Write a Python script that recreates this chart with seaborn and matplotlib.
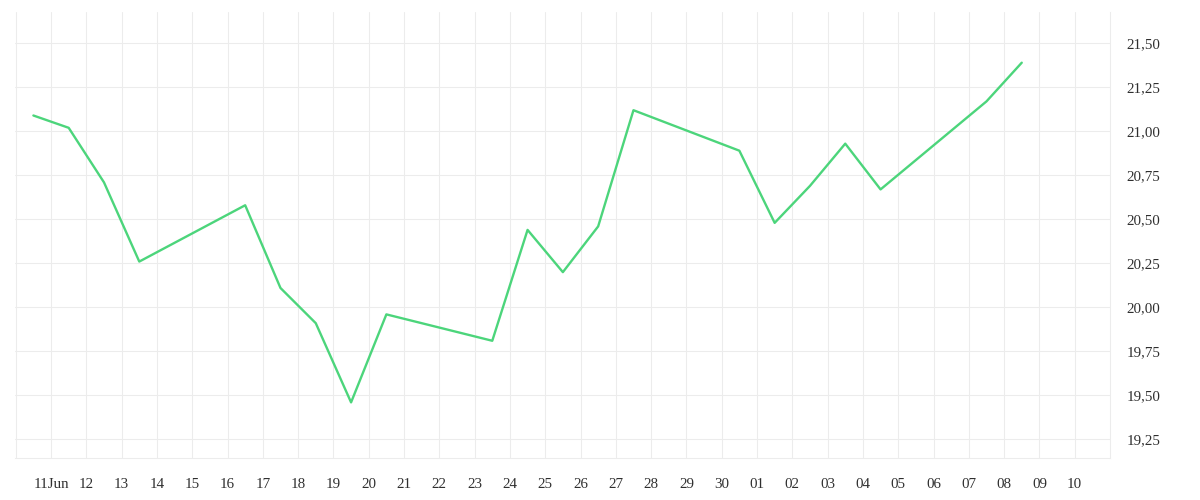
import pandas as pd
import matplotlib
matplotlib.use("Agg")
import matplotlib.pyplot as plt
import seaborn as sns

# -------------------------------------------------
# Data (trading days, weekends skipped)
# -------------------------------------------------
dates = ["2025-06-10", "2025-06-11", "2025-06-12", "2025-06-13",
         "2025-06-16", "2025-06-17", "2025-06-18", "2025-06-19", "2025-06-20",
         "2025-06-23", "2025-06-24", "2025-06-25", "2025-06-26", "2025-06-27",
         "2025-06-30", "2025-07-01", "2025-07-02", "2025-07-03", "2025-07-04",
         "2025-07-07", "2025-07-08"]
prices = [21.09, 21.02, 20.71, 20.26,
          20.58, 20.11, 19.91, 19.46, 19.96,
          19.81, 20.44, 20.20, 20.46, 21.12,
          20.89, 20.48, 20.69, 20.93, 20.67,
          21.17, 21.39]

y_ticks = [19.25, 19.50, 19.75, 20.00, 20.25, 20.50, 20.75, 21.00, 21.25, 21.50]
tick_days = pd.date_range("2025-06-10", "2025-07-10", freq="D")
tick_labels = [""] + ["11Jun"] + [d.strftime("%d") for d in tick_days[2:]]

line_color = "#4cd57b"
grid_color = "#ececec"
text_color = "#2f2f2f"

# Points sit in the middle of each day
data = pd.DataFrame({"Date": pd.to_datetime(dates) + pd.Timedelta(hours=12),
                     "Price": prices})

# -------------------------------------------------
# Line chart
# -------------------------------------------------
sns.set_style("white")
plt.rcParams["font.family"] = ["Liberation Serif", "DejaVu Serif"]
plt.rcParams["font.size"] = 10.8

fig = plt.figure(figsize=(12, 5), dpi=100)
ax = fig.add_axes([15 / 1200, 42 / 500, 1095 / 1200, 446 / 500])

sns.lineplot(data=data, x="Date", y="Price", color=line_color, linewidth=1.7, ax=ax)

ax.set_xlim(pd.Timestamp("2025-06-10") - pd.Timedelta(minutes=30), pd.Timestamp("2025-07-11"))
ax.set_ylim(19.144, 21.678)

ax.set_xticks(tick_days)
ax.set_xticklabels(tick_labels)
ax.set_yticks(y_ticks)
ax.set_yticklabels([f"{v:.2f}".replace(".", ",") for v in y_ticks])

ax.yaxis.tick_right()
ax.grid(True, color=grid_color, linewidth=0.75)
ax.set_axisbelow(True)
ax.tick_params(axis="x", length=7.2, width=0.75, color=grid_color, pad=7, labelcolor=text_color)
ax.tick_params(axis="y", length=0, pad=12, labelcolor=text_color)

for side in ["top", "left"]:
    ax.spines[side].set_visible(False)
for side in ["right", "bottom"]:
    ax.spines[side].set_color(grid_color)
    ax.spines[side].set_linewidth(0.75)

ax.set_xlabel("")
ax.set_ylabel("")

plt.savefig("out.png", dpi=100)
